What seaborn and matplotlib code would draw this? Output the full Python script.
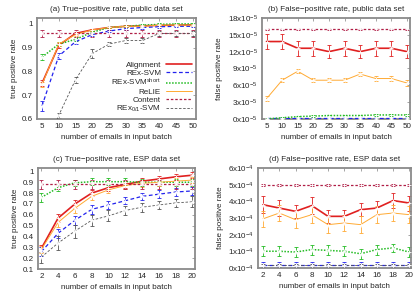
import numpy as np
import pandas as pd
import matplotlib
matplotlib.use("Agg")
import matplotlib.pyplot as plt
import seaborn as sns
from matplotlib.ticker import FuncFormatter, FixedLocator

# series names and styles
names = ['Alignment', 'REx-SVM', 'REx-SVM$^{short}$', 'ReLIE', 'Content', 'REx$_{0/1}$-SVM']
colors = ['#e02020', '#2222ee', '#22bb22', '#ffaa33', '#b01e46', '#555555']
styles = ['-', (0, (3, 2)), (0, (1, 1)), '-', (0, (2, 1.5)), (0, (3, 2))]
widths = [1.2, 0.9, 1.1, 0.7, 0.9, 0.6]

# (a) true-positive rate, public data set
x_pub = [5, 10, 15, 20, 25, 30, 35, 40, 45, 50]
tp_pub = [
    [0.750, 0.910, 0.960, 0.975, 0.985, 0.990, 0.992, 0.994, 0.995, 0.996],
    [0.655, 0.865, 0.925, 0.955, 0.970, 0.980, 0.985, 0.988, 0.990, 0.990],
    [0.860, 0.915, 0.935, 0.965, 0.985, 0.990, 0.995, 0.998, 1.000, 1.000],
    [0.745, 0.915, 0.955, 0.975, 0.985, 0.990, 0.990, 0.995, 0.995, 0.995],
    [0.960, 0.960, 0.960, 0.960, 0.960, 0.960, 0.960, 0.960, 0.960, 0.960],
    [0.450, 0.615, 0.765, 0.875, 0.915, 0.930, 0.930, 0.960, 0.960, 0.960],
]
tp_pub_err = [
    [0.012, 0.010, 0.006, 0.005, 0.004, 0.004, 0.004, 0.004, 0.004, 0.004],
    [0.020, 0.012, 0.010, 0.006, 0.005, 0.005, 0.005, 0.005, 0.005, 0.005],
    [0.012, 0.010, 0.008, 0.005, 0.004, 0.004, 0.004, 0.004, 0.004, 0.004],
    [0.012, 0.010, 0.006, 0.005, 0.004, 0.004, 0.004, 0.004, 0.004, 0.004],
    [0.015, 0.015, 0.015, 0.015, 0.015, 0.015, 0.015, 0.015, 0.015, 0.015],
    [0.010, 0.010, 0.012, 0.020, 0.010, 0.010, 0.010, 0.010, 0.010, 0.010],
]

# (b) false-positive rate, public data set (x1e-5)
fp_pub = [
    [13.8, 13.8, 12.6, 12.6, 12.0, 12.6, 12.0, 12.6, 12.6, 12.0],
    [0.1, 0.1, 0.1, 0.1, 0.1, 0.1, 0.1, 0.1, 0.1, 0.1],
    [0.0, 0.2, 0.4, 0.5, 0.6, 0.6, 0.6, 0.7, 0.7, 0.7],
    [3.6, 6.9, 8.5, 6.9, 6.9, 6.9, 8.0, 7.2, 7.2, 6.4],
    [16.0, 16.0, 16.0, 16.0, 16.0, 16.0, 16.0, 16.0, 16.0, 16.0],
    [0.0, 0.0, 0.0, 0.0, 0.0, 0.0, 0.0, 0.0, 0.0, 0.0],
]
fp_pub_err = [
    [1.3, 1.4, 1.3, 1.3, 1.2, 1.3, 1.2, 1.3, 1.3, 1.2],
    [0.05, 0.05, 0.05, 0.05, 0.05, 0.05, 0.05, 0.05, 0.05, 0.05],
    [0.1, 0.15, 0.15, 0.15, 0.15, 0.15, 0.15, 0.15, 0.15, 0.15],
    [0.4, 0.4, 0.4, 0.4, 0.4, 0.4, 0.4, 0.4, 0.4, 0.6],
    [0.1, 0.1, 0.1, 0.1, 0.1, 0.1, 0.1, 0.1, 0.1, 0.1],
    [0.05, 0.05, 0.05, 0.05, 0.05, 0.05, 0.05, 0.05, 0.05, 0.05],
]

# (c) true-positive rate, ESP data set
x_esp = [2, 4, 6, 8, 10, 12, 14, 16, 18, 20]
tp_esp = [
    [0.290, 0.570, 0.700, 0.800, 0.850, 0.880, 0.910, 0.930, 0.950, 0.965],
    [0.260, 0.430, 0.550, 0.650, 0.690, 0.730, 0.770, 0.790, 0.810, 0.820],
    [0.760, 0.850, 0.895, 0.905, 0.905, 0.905, 0.900, 0.900, 0.900, 0.900],
    [0.280, 0.530, 0.660, 0.770, 0.830, 0.870, 0.890, 0.900, 0.910, 0.920],
    [0.880, 0.880, 0.880, 0.880, 0.880, 0.880, 0.880, 0.880, 0.880, 0.880],
    [0.210, 0.340, 0.450, 0.550, 0.590, 0.640, 0.670, 0.690, 0.710, 0.720],
]
tp_esp_err = [
    [0.030, 0.035, 0.035, 0.030, 0.030, 0.030, 0.025, 0.025, 0.025, 0.025],
    [0.040, 0.040, 0.040, 0.040, 0.035, 0.035, 0.035, 0.035, 0.035, 0.035],
    [0.040, 0.035, 0.030, 0.030, 0.030, 0.030, 0.030, 0.030, 0.030, 0.030],
    [0.030, 0.040, 0.040, 0.035, 0.030, 0.030, 0.030, 0.030, 0.030, 0.030],
    [0.040, 0.040, 0.040, 0.040, 0.040, 0.040, 0.040, 0.040, 0.040, 0.040],
    [0.050, 0.060, 0.060, 0.050, 0.050, 0.045, 0.040, 0.040, 0.040, 0.050],
]

# (d) false-positive rate, ESP data set (x1e-4)
fp_esp = [
    [3.8, 3.6, 3.4, 3.75, 3.1, 3.1, 3.5, 3.6, 4.05, 3.9],
    [0.2, 0.2, 0.2, 0.2, 0.2, 0.2, 0.2, 0.2, 0.2, 0.2],
    [1.0, 1.0, 0.95, 1.1, 1.05, 1.0, 0.85, 1.1, 1.2, 0.95],
    [2.95, 3.3, 2.9, 3.2, 2.6, 2.7, 2.6, 3.2, 3.3, 3.2],
    [5.0, 5.0, 5.0, 5.0, 5.0, 5.0, 5.0, 5.0, 5.0, 5.0],
    [0.15, 0.15, 0.15, 0.15, 0.15, 0.15, 0.15, 0.15, 0.15, 0.15],
]
fp_esp_err = [
    [0.5, 0.5, 0.4, 0.5, 0.4, 0.4, 0.4, 0.4, 0.45, 0.45],
    [0.15, 0.15, 0.15, 0.15, 0.15, 0.15, 0.15, 0.15, 0.15, 0.15],
    [0.3, 0.3, 0.3, 0.3, 0.3, 0.3, 0.3, 0.3, 0.25, 0.3],
    [0.5, 0.5, 0.5, 0.5, 0.5, 0.5, 0.5, 0.5, 0.5, 0.5],
    [0.05, 0.05, 0.05, 0.05, 0.05, 0.05, 0.05, 0.05, 0.05, 0.05],
    [0.1, 0.1, 0.1, 0.1, 0.1, 0.1, 0.1, 0.1, 0.1, 0.1],
]

sns.set_style("white")
plt.rcParams['font.family'] = ['Liberation Sans', 'DejaVu Sans']
plt.rcParams['mathtext.default'] = 'regular'
plt.rcParams['mathtext.fontset'] = 'custom'
plt.rcParams['mathtext.rm'] = 'Liberation Sans'
FS = 5.8

fig = plt.figure(figsize=(4.13, 2.95), dpi=100)
ax_a = fig.add_axes([0.0896, 0.597, 0.385, 0.342])
ax_b = fig.add_axes([0.634, 0.597, 0.359, 0.342])
ax_c = fig.add_axes([0.092, 0.088, 0.380, 0.342])
ax_d = fig.add_axes([0.625, 0.092, 0.370, 0.338])


def draw(ax, x, ys, errs, order):
    for i in order:
        df = pd.DataFrame({'x': x, 'y': ys[i]})
        ax.errorbar(x, ys[i], yerr=errs[i], fmt='none', ecolor=colors[i],
                    elinewidth=0.6, capsize=1.2, capthick=0.6, zorder=2 + i * 0.1)
        sns.lineplot(data=df, x='x', y='y', ax=ax, color=colors[i], linestyle=styles[i],
                     linewidth=widths[i], marker='+', markersize=2.5, markeredgewidth=0.6,
                     label=names[i], legend=False, zorder=3 + i * 0.1)


def frame(ax, title, xticks, xlim, ylim, yticks, ylabel, fmt=None):
    ax.set_title(title, fontsize=FS, pad=5)
    ax.set_xlim(*xlim)
    ax.set_ylim(*ylim)
    ax.xaxis.set_major_locator(FixedLocator(xticks))
    ax.yaxis.set_major_locator(FixedLocator(yticks))
    if fmt is not None:
        ax.yaxis.set_major_formatter(FuncFormatter(fmt))
    ax.set_xlabel('number of emails in input batch', fontsize=FS, labelpad=3)
    ax.set_ylabel(ylabel, fontsize=FS, labelpad=3)
    ax.tick_params(direction='in', length=2.5, width=0.5, labelsize=FS, pad=3,
                   top=True, right=True, color='#808080')
    for s in ax.spines.values():
        s.set_color('#8a8a8a')
        s.set_linewidth(1.3)


order = [5, 4, 3, 2, 1, 0]
draw(ax_a, x_pub, tp_pub, tp_pub_err, order)
frame(ax_a, '(a) True\u2212positive rate, public data set', x_pub, (3.5, 51), (0.6, 1.025),
      [0.6, 0.7, 0.8, 0.9, 1.0], 'true positive rate',
      lambda v, p: '1' if abs(v - 1) < 1e-9 else f'{v:.1f}')
h, l = ax_a.get_legend_handles_labels()
hd = dict(zip(l, h))
ax_a.legend([hd[n] for n in names], names, loc='lower right', frameon=False,
            fontsize=FS, markerfirst=False, handlelength=3.2, labelspacing=0.02,
            borderaxespad=0.15, handletextpad=0.6, alignment='right')
for t in ax_a.get_legend().get_texts():
    t.set_ha('right')
for lh in ax_a.get_legend().legend_handles:
    lh.set_marker('')

draw(ax_b, x_pub, fp_pub, fp_pub_err, order)
frame(ax_b, '(b) False\u2212positive rate, public data set', x_pub, (3.5, 51), (0, 18),
      [0, 3, 6, 9, 12, 15, 18], 'false positive rate',
      lambda v, p: f'{int(round(v))}x10$^{{-5}}$')

draw(ax_c, x_esp, tp_esp, tp_esp_err, order)
frame(ax_c, '(c) True\u2212positive rate, ESP data set', x_esp, (1.6, 20.3), (0.1, 1.03),
      [0.1, 0.2, 0.3, 0.4, 0.5, 0.6, 0.7, 0.8, 0.9, 1.0], 'true positive rate',
      lambda v, p: '1' if abs(v - 1) < 1e-9 else f'{v:.1f}')

draw(ax_d, x_esp, fp_esp, fp_esp_err, order)
frame(ax_d, '(d) False\u2212positive rate, ESP data set', x_esp, (1.4, 20.2), (0, 6),
      [0, 1, 2, 3, 4, 5, 6], 'false positive rate',
      lambda v, p: f'{int(round(v))}x10$^{{-4}}$')

fig.savefig('out.png', dpi=100)
